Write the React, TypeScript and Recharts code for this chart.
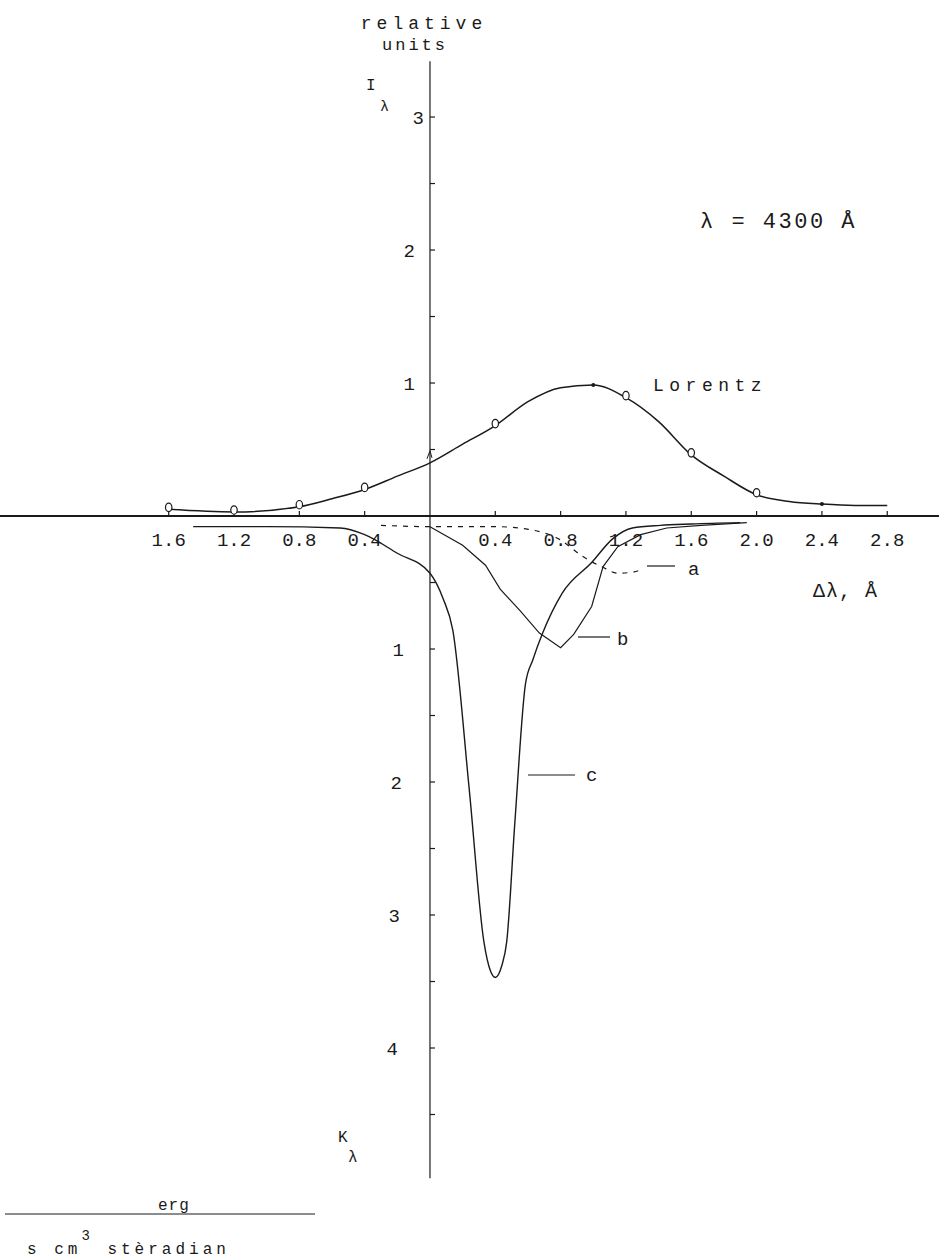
import { LineChart, Line, XAxis, YAxis, ReferenceLine, ReferenceDot } from 'recharts';

// ── Datos ─────────────────────────────────────────────────────────────────────
// Δλ en Å; I_λ hacia arriba (positivo), K_λ hacia abajo (se grafica negativo)

const lorentzX = [-1.6, -1.2, -0.8, -0.6, -0.4, -0.2, 0, 0.2, 0.4, 0.6, 0.8, 1.0, 1.2, 1.4, 1.6, 1.8, 2.0, 2.2, 2.4, 2.6, 2.8];
const lorentzI = [0.05, 0.03, 0.07, 0.13, 0.2, 0.3, 0.4, 0.54, 0.68, 0.86, 0.965, 0.985, 0.89, 0.71, 0.46, 0.3, 0.16, 0.11, 0.09, 0.08, 0.08];
const lorentzMark = ['o', 'o', 'o', '', 'o', '', 'v', '', 'o', '', '', 'dot', 'o', '', 'o', '', 'o', '', 'dot', '', ''];

const cX = [-1.45, -1.0, -0.55, -0.4, -0.2, 0, 0.08, 0.14, 0.24, 0.33, 0.37, 0.4, 0.44, 0.47, 0.52, 0.585, 0.63, 0.69, 0.81, 0.99, 1.12, 1.24, 1.41, 1.6, 1.9];
const cK = [0.08, 0.08, 0.09, 0.14, 0.28, 0.43, 0.62, 0.86, 2.05, 3.2, 3.42, 3.47, 3.38, 3.2, 2.3, 1.26, 1.08, 0.88, 0.58, 0.35, 0.17, 0.09, 0.07, 0.06, 0.05];

const bX = [0, 0.2, 0.34, 0.43, 0.55, 0.67, 0.8, 0.88, 0.99, 1.06, 1.15, 1.29, 1.45, 1.66, 1.94];
const bK = [0.08, 0.22, 0.37, 0.55, 0.71, 0.88, 0.99, 0.89, 0.68, 0.38, 0.23, 0.14, 0.09, 0.07, 0.05];

const aX = [-0.3, 0, 0.4, 0.6, 0.8, 0.93, 1.05, 1.15, 1.25, 1.3];
const aK = [0.07, 0.08, 0.08, 0.1, 0.18, 0.3, 0.38, 0.43, 0.42, 0.4];

// Marcas de ejes
const xTicks = [-1.6, -1.2, -0.8, -0.4, 0.4, 0.8, 1.2, 1.6, 2.0, 2.4, 2.8];
const iTicks = [1, 2, 3];
const iHalfTicks = [0.5, 1.5, 2.5];
const kTicks = [1, 2, 3, 4];
const kHalfTicks = [0.5, 1.5, 2.5, 3.5, 4.5];

const lorentzData = lorentzX.map((x, i) => ({ x, y: lorentzI[i], mark: lorentzMark[i] }));
const cData = cX.map((x, i) => ({ x, y: -cK[i] }));
const bData = bX.map((x, i) => ({ x, y: -bK[i] }));
const aData = aX.map((x, i) => ({ x, y: -aK[i] }));

const FONT = "'Liberation Mono', 'DejaVu Sans Mono', monospace";
const INK = '#1a1a1a';

// ── Marcadores de la curva de Lorentz ─────────────────────────────────────────

const LorentzDot = (props: any) => {
  const { cx, cy, payload, index } = props;
  if (payload.mark === 'o')
    return <ellipse key={index} cx={cx} cy={cy - 2} rx={3.2} ry={4.2} fill="#fff" stroke={INK} strokeWidth={1.2} />;
  if (payload.mark === 'dot') return <circle key={index} cx={cx} cy={cy} r={2} fill={INK} />;
  if (payload.mark === 'v')
    return <path key={index} d={`M${cx - 3},${cy - 4} L${cx},${cy - 12} L${cx + 2},${cy - 5}`} fill="none" stroke={INK} strokeWidth={1} />;
  return <g key={index} />;
};

const XTick = ({ cx, cy, label }: any) => (
  <g>
    <line x1={cx} y1={cy} x2={cx} y2={cy - 5} stroke={INK} strokeWidth={1.2} />
    <text x={cx} y={cy + 30} textAnchor="middle" fontFamily={FONT} fontSize={19} fill={INK}>
      {label}
    </text>
  </g>
);

const YTick = ({ cx, cy, label, dx }: any) => (
  <g>
    <line x1={cx} y1={cy} x2={cx + 5} y2={cy} stroke={INK} strokeWidth={1.2} />
    {label && (
      <text x={cx - dx} y={cy + 7} textAnchor="end" fontFamily={FONT} fontSize={19} fill={INK}>
        {label}
      </text>
    )}
  </g>
);

export default function App() {
  return (
    <div style={{ position: 'absolute', left: 0, top: 0, width: 939, height: 1260, background: '#fff' }}>
      <LineChart width={939} height={1260} margin={{ top: 0, right: 0, bottom: 0, left: 0 }}>
        <XAxis type="number" dataKey="x" domain={[-2.633, 3.117]} allowDataOverflow hide />
        <YAxis type="number" dataKey="y" domain={[-5.594, 3.88]} allowDataOverflow hide />

        {/* Ejes dibujados en el origen */}
        <ReferenceLine y={0} stroke={INK} strokeWidth={2} />
        <ReferenceLine segment={[{ x: 0, y: 3.42 }, { x: 0, y: -4.98 }]} stroke={INK} strokeWidth={1.2} />

        {xTicks.map((v) => (
          <ReferenceDot key={`x${v}`} x={v} y={0} r={1} shape={(p: any) => <XTick {...p} label={Math.abs(v).toFixed(1)} />} />
        ))}
        {iTicks.map((v) => (
          <ReferenceDot key={`i${v}`} x={0} y={v} r={1} shape={(p: any) => <YTick {...p} label={String(v)} dx={v === 3 ? 6 : 15} />} />
        ))}
        {iHalfTicks.map((v) => (
          <ReferenceDot key={`ih${v}`} x={0} y={v} r={1} shape={(p: any) => <YTick {...p} />} />
        ))}
        {kTicks.map((v) => (
          <ReferenceDot key={`k${v}`} x={0} y={-v} r={1} shape={(p: any) => <YTick {...p} label={String(v)} dx={24 + v * 2} />} />
        ))}
        {kHalfTicks.map((v) => (
          <ReferenceDot key={`kh${v}`} x={0} y={-v} r={1} shape={(p: any) => <YTick {...p} />} />
        ))}

        <Line data={lorentzData} dataKey="y" type="monotone" stroke={INK} strokeWidth={1.5} dot={LorentzDot} activeDot={false} isAnimationActive={false} />
        <Line data={cData} dataKey="y" type="monotone" stroke={INK} strokeWidth={1.4} dot={false} activeDot={false} isAnimationActive={false} />
        <Line data={bData} dataKey="y" type="linear" stroke={INK} strokeWidth={1.2} dot={false} activeDot={false} isAnimationActive={false} />
        <Line data={aData} dataKey="y" type="monotone" stroke={INK} strokeWidth={1.2} strokeDasharray="5 6" dot={false} activeDot={false} isAnimationActive={false} />
      </LineChart>

      {/* Rótulos */}
      <svg width={939} height={1260} style={{ position: 'absolute', left: 0, top: 0, pointerEvents: 'none' }}>
        <g fontFamily={FONT} fill={INK}>
          <text x={424} y={29} textAnchor="middle" fontSize={18} letterSpacing={5}>relative</text>
          <text x={415} y={50} textAnchor="middle" fontSize={17} letterSpacing={3}>units</text>
          <text x={366} y={90} fontSize={16}>I</text>
          <text x={380} y={111} fontSize={15}>λ</text>

          <text x={700} y={228} fontSize={22} letterSpacing={2.5}>λ  = 4300 Å</text>
          <text x={653} y={391} fontSize={18} letterSpacing={5.5}>Lorentz</text>

          <line x1={647} y1={566} x2={675} y2={566} stroke={INK} strokeWidth={1.2} />
          <text x={688} y={575} fontSize={19}>a</text>
          <line x1={578} y1={637} x2={610} y2={637} stroke={INK} strokeWidth={1.2} />
          <text x={617} y={645} fontSize={19}>b</text>
          <line x1={528} y1={775} x2={575} y2={775} stroke={INK} strokeWidth={1.2} />
          <text x={586} y={781} fontSize={19}>c</text>

          <text x={813} y={597} fontSize={20} letterSpacing={1}>Δλ, Å</text>

          <text x={338} y={1142} fontSize={16}>K</text>
          <text x={348} y={1162} fontSize={16}>λ</text>

          <text x={158} y={1210} fontSize={16} letterSpacing={1}>erg</text>
          <line x1={5} y1={1214} x2={315} y2={1214} stroke={INK} strokeWidth={1} />
          <text x={27} y={1254} fontSize={16} letterSpacing={4}>
            s cm<tspan dy={-14} fontSize={14}>3</tspan>
            <tspan dy={14}> stèradian</tspan>
          </text>
        </g>
      </svg>
    </div>
  );
}
